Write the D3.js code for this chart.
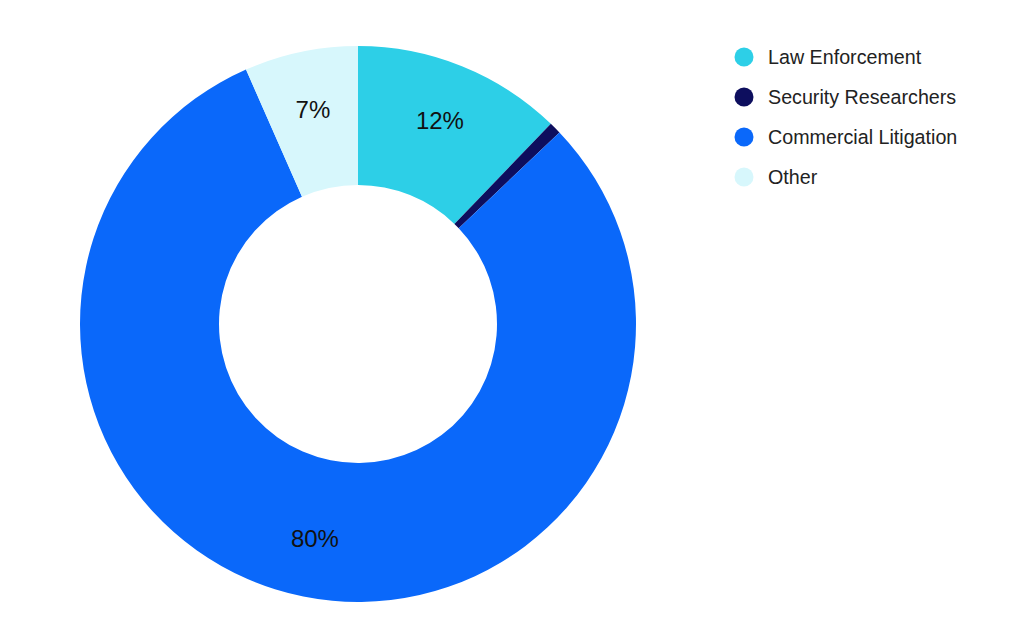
<!DOCTYPE html>
<html>
<head>
<meta charset="utf-8">
<script src="https://cdn.jsdelivr.net/npm/d3@7"></script>
<style>
  body { margin: 0; background: #fff; }
  svg { font-family: "Liberation Sans", Arial, sans-serif; }
</style>
</head>
<body>
<svg id="chart" width="1024" height="633"></svg>
<script>
"use strict";

var categories = ["Law Enforcement", "Security Researchers", "Commercial Litigation", "Other"];
var shares = [12.2, 0.7, 80.5, 6.6];
var labels = ["12%", "", "80%", "7%"];
var colors = ["#2dcfe7", "#0d0e5e", "#0a68fa", "#d7f7fc"];

var cx = 358, cy = 324;
var outerR = 278, innerR = 139;

var svg = d3.select("#chart");
var data = categories.map(function(c, i) { return {name: c, value: shares[i], label: labels[i]}; });

var color = d3.scaleOrdinal().domain(categories).range(colors);

var pie = d3.pie().sort(null).value(function(d) { return d.value; });
var arc = d3.arc().innerRadius(innerR).outerRadius(outerR);
var labelArc = d3.arc().innerRadius(219).outerRadius(219);

var g = svg.append("g").attr("transform", "translate(" + cx + "," + cy + ")");

g.selectAll("path.slice")
    .data(pie(data))
    .enter().append("path")
    .attr("class", "slice")
    .attr("d", arc)
    .attr("fill", function(d) { return color(d.data.name); });

g.selectAll("text.pct")
    .data(pie(data))
    .enter().append("text")
    .attr("class", "pct")
    .attr("transform", function(d) { return "translate(" + labelArc.centroid(d) + ")"; })
    .attr("text-anchor", "middle")
    .attr("dy", "0.35em")
    .attr("font-size", 24)
    .attr("fill", "#111")
    .text(function(d) { return d.data.label; });

// legend
var legend = svg.append("g").attr("transform", "translate(744,57)");
var row = legend.selectAll("g.item")
    .data(categories)
    .enter().append("g")
    .attr("class", "item")
    .attr("transform", function(d, i) { return "translate(0," + (i * 40) + ")"; });

row.append("circle")
    .attr("r", 9.5)
    .attr("fill", function(d) { return color(d); });

row.append("text")
    .attr("x", 24)
    .attr("dy", "0.35em")
    .attr("font-size", 19.7)
    .attr("fill", "#222")
    .text(function(d) { return d; });
</script>
</body>
</html>
